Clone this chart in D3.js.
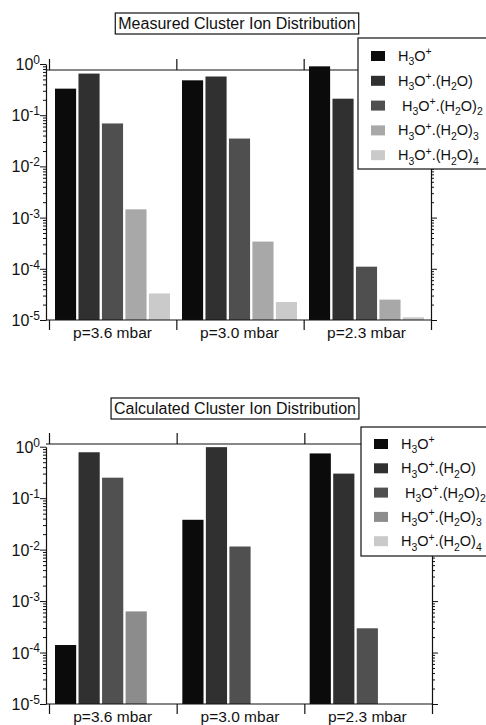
<!DOCTYPE html>
<html><head><meta charset="utf-8">
<script src="https://cdn.jsdelivr.net/npm/d3@7"></script>
<style>
body{margin:0;background:#fff}
svg{display:block}
text{font-family:"Liberation Sans",Arial,Helvetica,sans-serif;fill:#111}
</style>
</head><body><svg id="c" width="486" height="725"></svg>
<script>
// ---------- data ----------
const categories = ["p=3.6 mbar", "p=3.0 mbar", "p=2.3 mbar"];
const seriesLabels = [
  "H_{3}O^{+}",
  "H_{3}O^{+}.(H_{2}O)",
  "H_{3}O^{+}.(H_{2}O)_{2}",
  "H_{3}O^{+}.(H_{2}O)_{3}",
  "H_{3}O^{+}.(H_{2}O)_{4}"
];
// values per category, in series order (null = no bar)
const measured36 = [0.33, 0.65, 0.069, 0.00145, 3.3e-5];
const measured30 = [0.48, 0.57, 0.035, 3.4e-4, 2.25e-5];
const measured23 = [0.9, 0.21, 1.1e-4, 2.5e-5, 1.13e-5];
const calculated36 = [1.4e-4, 0.78, 0.25, 6.3e-4, null];
const calculated30 = [0.038, 0.98, 0.0115, null, null];
const calculated23 = [0.74, 0.30, 2.96e-4, null, null];
const yTickLabels = ["10^{0}", "10^{-1}", "10^{-2}", "10^{-3}", "10^{-4}", "10^{-5}"];
const yTickValues = [1, 1e-1, 1e-2, 1e-3, 1e-4, 1e-5];

const colorsMeasured = ["#0b0b0b", "#303030", "#4f4f4f", "#a8a8a8", "#cacaca"];
const colorsCalculated = ["#0b0b0b", "#303030", "#505050", "#8c8c8c", "#cacaca"];

// ---------- helpers ----------
function richText(sel, markup, size, supScale) {
  const sc = supScale || 0.72;
  const re = /(_|\^)\{([^}]*)\}|([^_^]+)/g;
  let m, cur = 0;
  while ((m = re.exec(markup)) !== null) {
    let target = 0, fs = size, str;
    if (m[1] === "_") { target = size * 0.3; fs = size * sc; str = m[2]; }
    else if (m[1] === "^") { target = -size * 0.38; fs = size * sc; str = m[2]; }
    else { str = m[3]; }
    sel.append("tspan").attr("dy", target - cur).attr("font-size", fs).text(str);
    cur = target;
  }
}

const svg = d3.select("#c");

function panel(cfg) {
  const g = svg.append("g");
  const y = d3.scaleLog().domain([1e-5, 1]).range([cfg.yBot, cfg.yTop]);
  const x = d3.scaleBand().domain(categories).range([cfg.xL, cfg.xR]).padding(0);
  const xs = d3.scaleBand().domain(d3.range(seriesLabels.length))
    .range([6, x.bandwidth() - 6]).paddingInner(0.1);

  // bars
  categories.forEach((c, ci) => {
    const vals = cfg.data[ci];
    g.selectAll(null).data(vals.map((v, i) => ({v, i})).filter(d => d.v != null))
      .join("rect")
      .attr("x", d => x(c) + xs(d.i))
      .attr("width", xs.bandwidth())
      .attr("y", d => y(d.v))
      .attr("height", d => y(1e-5) - y(d.v))
      .attr("fill", d => cfg.colors[d.i]);
  });

  const allTicks = [];
  for (let e = -5; e <= 0; e++) for (let k = 1; k <= 9; k++) {
    const v = k * Math.pow(10, e);
    if (v <= 1.0000001) allTicks.push(v);
  }
  const isMajor = v => Math.abs(Math.log10(v) - Math.round(Math.log10(v))) < 1e-6;

  // left axis
  const la = g.append("g").attr("transform", `translate(${cfg.axisX},0)`)
    .call(d3.axisLeft(y).tickValues(allTicks).tickFormat("").tickSizeOuter(0));
  la.selectAll(".tick line").attr("x2", d => isMajor(d) ? -6 : -3).attr("stroke", "#111");
  la.select(".domain").attr("stroke", "#111").attr("stroke-width", 1.2);
  yTickValues.forEach((v, i) => {
    const t = g.append("text").attr("x", cfg.axisX - 6).attr("y", y(v) + 6)
      .attr("text-anchor", "end").attr("font-size", 16);
    richText(t, yTickLabels[i], 16, 0.75);
  });

  // right axis
  const ra = g.append("g").attr("transform", `translate(${cfg.xR + 1},0)`)
    .call(d3.axisRight(y).tickValues(allTicks).tickFormat("").tickSizeOuter(0));
  ra.selectAll(".tick line").attr("x2", d => isMajor(d) ? 6 : 3).attr("stroke", "#111");
  ra.select(".domain").attr("stroke", "#111").attr("stroke-width", 1.2);

  // bottom axis with category separators
  const bounds = d3.scaleLinear().domain([0, categories.length]).range([cfg.xL, cfg.xR + 1]);
  const ba = g.append("g").attr("transform", `translate(0,${cfg.yBot})`)
    .call(d3.axisBottom(bounds).tickValues(d3.range(categories.length + 1)).tickFormat("").tickSize(10).tickSizeOuter(0));
  ba.select(".domain").remove();
  ba.selectAll(".tick line").attr("stroke", "#111").attr("stroke-width", 1.2);
  g.append("line").attr("x1", cfg.axisX).attr("x2", cfg.xR + 1)
    .attr("y1", cfg.yBot).attr("y2", cfg.yBot).attr("stroke", "#111").attr("stroke-width", 1.2);
  categories.forEach(c => {
    g.append("text").attr("x", x(c) + x.bandwidth() / 2).attr("y", cfg.catY)
      .attr("text-anchor", "middle").attr("font-size", 15.5).text(c);
  });

  // top frame with separators
  const ta = g.append("g").attr("transform", `translate(0,${cfg.frameTop})`)
    .call(d3.axisTop(bounds).tickValues(d3.range(categories.length + 1)).tickFormat("").tickSize(11).tickSizeOuter(0));
  ta.select(".domain").remove();
  ta.selectAll(".tick line").attr("stroke", "#111").attr("stroke-width", 1.2);
  g.append("line").attr("x1", cfg.axisX).attr("x2", cfg.xR + 1)
    .attr("y1", cfg.frameTop).attr("y2", cfg.frameTop).attr("stroke", "#111").attr("stroke-width", 1.2);

  // legend
  const lg = g.append("g");
  lg.append("rect").attr("x", cfg.legX).attr("y", cfg.legY).attr("width", 150).attr("height", cfg.legH)
    .attr("fill", "#fff").attr("stroke", "#111").attr("stroke-width", 1.2);
  seriesLabels.forEach((lab, i) => {
    const cy = cfg.legY + cfg.legFirst + i * cfg.legStep;
    lg.append("rect").attr("x", cfg.legX + 13).attr("y", cy - 5).attr("width", 14).attr("height", 10)
      .attr("fill", cfg.colors[i]);
    const t = lg.append("text").attr("x", cfg.legX + 40 + (i === 2 ? 4 : 0)).attr("y", cy + 5)
      .attr("font-size", 14.5);
    richText(t, lab, 14.5, 0.72);
  });

  // title
  const tt = g.append("text").attr("x", cfg.titleX).attr("y", cfg.titleY)
    .attr("text-anchor", "middle").attr("font-size", 16).text(cfg.title);
  const bb = tt.node().getBBox();
  g.append("rect").attr("x", bb.x - 3).attr("y", cfg.titleY - 16).attr("width", bb.width + 6).attr("height", 21)
    .attr("fill", "none").attr("stroke", "#111").attr("stroke-width", 1.2);
}

panel({
  title: "Measured Cluster Ion Distribution",
  data: [measured36, measured30, measured23],
  colors: colorsMeasured,
  yTop: 64, yBot: 320, frameTop: 70,
  xL: 49, xR: 430, axisX: 46, catY: 338,
  legX: 358, legY: 38, legH: 131, legFirst: 18, legStep: 24.8,
  titleX: 237, titleY: 29
});
panel({
  title: "Calculated Cluster Ion Distribution",
  data: [calculated36, calculated30, calculated23],
  colors: colorsCalculated,
  yTop: 446.7, yBot: 704, frameTop: 444,
  xL: 49, xR: 431, axisX: 46, catY: 722,
  legX: 361, legY: 427, legH: 129, legFirst: 17, legStep: 24.3,
  titleX: 235, titleY: 414
});
</script>
</body></html>
